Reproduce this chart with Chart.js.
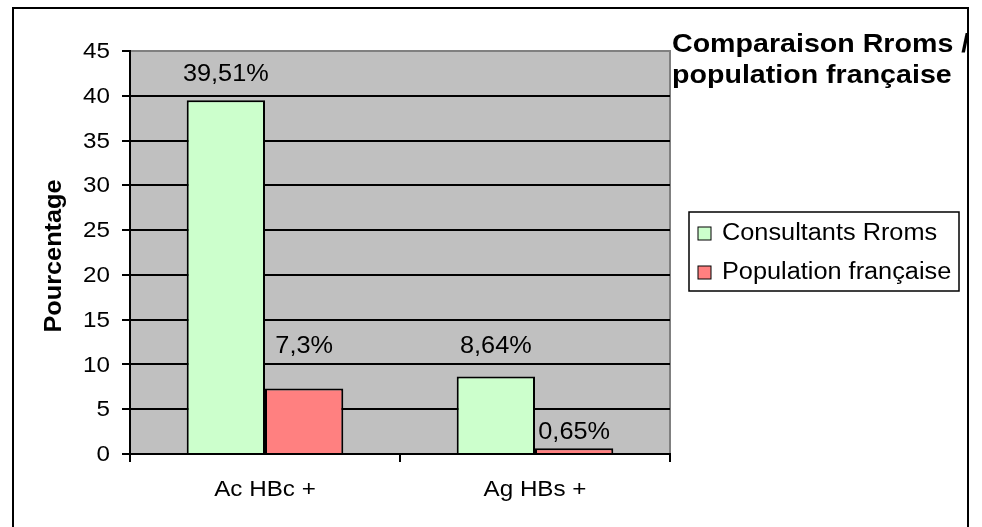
<!DOCTYPE html>
<html>
<head>
<meta charset="utf-8">
<script src="https://cdn.jsdelivr.net/npm/chart.js@4/dist/chart.umd.min.js"></script>
<style>
  body { margin: 0; background: #fff; }
</style>
</head>
<body>
<canvas id="hepatite" width="982" height="527" style="width:982px;height:527px"></canvas>
<script>
const categories = ["Ac HBc +", "Ag HBs +"];
const seriesNames = ["Consultants Rroms", "Population française"];
const rroms = [39.51, 8.64];
const francaise = [7.3, 0.65];
const yMax = 45;
const yStep = 5;
const titleLines = ["Comparaison Rroms /", "population française"];

const FONT = "'Liberation Sans', Arial, sans-serif";
const SX = 1.1; // texte un peu elargi comme dans Excel

function txt(ctx, s, x, y, font, align, base) {
  ctx.save();
  ctx.translate(x, y);
  ctx.scale(SX, 1);
  ctx.font = font;
  ctx.textAlign = align || "center";
  ctx.textBaseline = base || "middle";
  ctx.fillStyle = "#000";
  ctx.fillText(s, 0, 0);
  ctx.restore();
}

function pct(v) {
  return String(v).replace(".", ",") + "%";
}

const decor = {
  id: "decor",
  beforeDraw(chart) {
    const { ctx, chartArea: a } = chart;
    ctx.save();
    ctx.fillStyle = "#C0C0C0";
    ctx.fillRect(a.left, a.top, a.right - a.left, a.bottom - a.top);
    ctx.strokeStyle = "#808080";
    ctx.lineWidth = 2;
    ctx.beginPath();
    ctx.moveTo(a.left, a.top);
    ctx.lineTo(a.right, a.top);
    ctx.lineTo(a.right, a.bottom);
    ctx.stroke();
    ctx.restore();
  },
  afterDatasetsDraw(chart, args, opts) {
    const ctx = chart.ctx;
    chart.data.datasets.forEach((ds, i) => {
      chart.getDatasetMeta(i).data.forEach((bar, j) => {
        txt(ctx, pct(ds.data[j]), bar.x, bar.y - opts.lift[i][j], "23px " + FONT);
      });
    });
  },
  afterDraw(chart) {
    const { ctx, chartArea: a, scales } = chart;
    const y = scales.y, x = scales.x;

    // graduations
    y.ticks.forEach(t => {
      txt(ctx, String(t.value), a.left - 20, y.getPixelForValue(t.value) + 1, "22px " + FONT, "right");
    });
    categories.forEach((c, i) => {
      txt(ctx, c, x.getPixelForValue(i), 490, "22px " + FONT);
    });

    // titre de l'axe
    ctx.save();
    ctx.translate(55, 256);
    ctx.rotate(-Math.PI / 2);
    ctx.scale(SX, 1);
    ctx.font = "bold 23px " + FONT;
    ctx.textAlign = "center";
    ctx.textBaseline = "middle";
    ctx.fillStyle = "#000";
    ctx.fillText("Pourcentage", 0, 0);
    ctx.restore();

    // titre
    txt(ctx, titleLines[0], 672, 52, "bold 26px " + FONT, "left", "alphabetic");
    txt(ctx, titleLines[1], 672, 83, "bold 26px " + FONT, "left", "alphabetic");

    // legende
    ctx.save();
    ctx.strokeStyle = "#000";
    ctx.lineWidth = 1.5;
    ctx.strokeRect(689, 212, 270, 79);
    chart.data.datasets.forEach((ds, i) => {
      const yy = 234 + i * 39;
      ctx.fillStyle = ds.backgroundColor;
      ctx.fillRect(698, yy - 7, 13, 13);
      ctx.lineWidth = 1;
      ctx.strokeRect(698, yy - 7, 13, 13);
      txt(ctx, ds.label, 722, yy, "23px " + FONT, "left");
    });

    // cadre du graphique
    ctx.lineWidth = 2;
    ctx.strokeRect(13, 8, 955, 530);
    ctx.restore();
  }
};

new Chart(document.getElementById("hepatite"), {
  type: "bar",
  data: {
    labels: categories,
    datasets: [
      {
        label: seriesNames[0],
        data: rroms,
        backgroundColor: "#CCFFCC",
        borderColor: "#000",
        borderWidth: 2
      },
      {
        label: seriesNames[1],
        data: francaise,
        backgroundColor: "#FF8080",
        borderColor: "#000",
        borderWidth: 2
      }
    ]
  },
  plugins: [decor],
  options: {
    responsive: false,
    animation: false,
    categoryPercentage: 0.58,
    barPercentage: 1.0,
    layout: { padding: { left: 122, right: 312, top: 51, bottom: 65 } },
    scales: {
      x: {
        offset: true,
        grid: { offset: true, drawOnChartArea: false, color: "#000", lineWidth: 2, tickLength: 8 },
        border: { color: "#000", width: 2 },
        ticks: { display: false },
        afterFit: s => { s.height = 8; }
      },
      y: {
        min: 0,
        max: yMax,
        ticks: { display: false, stepSize: yStep },
        grid: {
          color: c => (c.tick && c.tick.value === yMax ? "#808080" : "#000"),
          tickColor: "#000",
          lineWidth: 2,
          tickLength: 8
        },
        border: { color: "#000", width: 2 },
        afterFit: s => { s.width = 8; }
      }
    },
    plugins: {
      legend: { display: false },
      tooltip: { enabled: false },
      decor: { lift: [[26, 30], [42, 16]] }
    }
  }
});
</script>
</body>
</html>
